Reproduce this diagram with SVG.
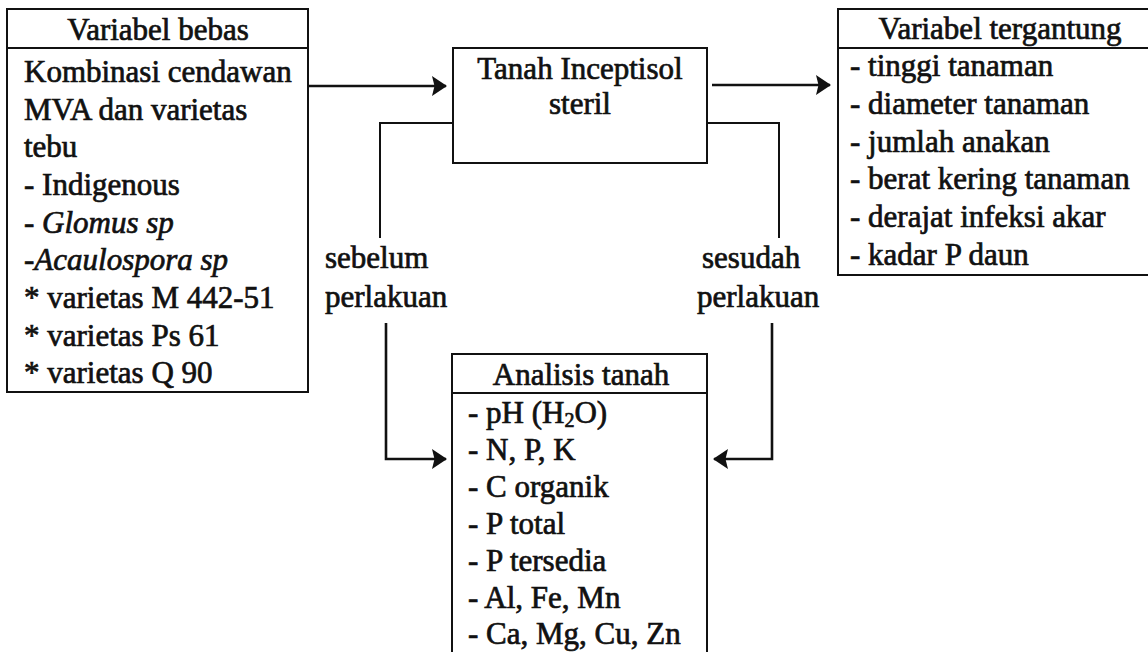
<svg xmlns="http://www.w3.org/2000/svg" width="1148" height="652" viewBox="0 0 1148 652">
<style>
  .box { fill: none; stroke: #111; stroke-width: 2; }
  .t { font-size: 31px; fill: #111; stroke: #111; stroke-width: 0.7; }
  .c { text-anchor: middle; }
  .i { font-style: italic; }
  .ln { fill: none; stroke: #111; stroke-width: 2; }
  .ar { fill: none; stroke: #111; stroke-width: 2.6; }
</style>
<defs>
  <marker id="ah" viewBox="0 0 15 20" refX="14" refY="10" markerWidth="15" markerHeight="20" markerUnits="userSpaceOnUse" orient="auto">
    <path d="M0,0 L15,10 L0,20 L2.5,10 Z" fill="#111"/>
  </marker>
</defs>
<rect x="0" y="0" width="1148" height="652" fill="#fff"/>

<g font-family="'Liberation Serif', serif">
<g id="variabel-bebas">
  <rect class="box" x="7" y="9" width="301" height="383"/>
  <line class="box" x1="7" y1="48" x2="308" y2="48"/>
  <text class="t c" x="158" y="40">Variabel bebas</text>
  <text class="t" x="24" y="82">Kombinasi cendawan</text>
  <text class="t" x="24" y="120">MVA dan varietas</text>
  <text class="t" x="24" y="157">tebu</text>
  <text class="t" x="24" y="195">- Indigenous</text>
  <text class="t" x="24" y="233">- <tspan class="i">Glomus sp</tspan></text>
  <text class="t" x="24" y="270">-<tspan class="i">Acaulospora sp</tspan></text>
  <text class="t" x="24" y="308">* varietas M 442-51</text>
  <text class="t" x="24" y="346">* varietas Ps 61</text>
  <text class="t" x="24" y="383">* varietas Q 90</text>
</g>

<g id="tanah-inceptisol">
  <rect class="box" x="453" y="48" width="254" height="115"/>
  <text class="t c" x="580" y="79">Tanah Inceptisol</text>
  <text class="t c" x="580" y="114">steril</text>
</g>

<g id="variabel-tergantung">
  <rect class="box" x="838" y="9" width="320" height="266"/>
  <line class="box" x1="838" y1="48" x2="1148" y2="48"/>
  <text class="t c" x="1000" y="39">Variabel tergantung</text>
  <text class="t" x="850" y="76">- tinggi tanaman</text>
  <text class="t" x="850" y="114">- diameter tanaman</text>
  <text class="t" x="850" y="152">- jumlah anakan</text>
  <text class="t" x="850" y="189">- berat kering tanaman</text>
  <text class="t" x="850" y="227">- derajat infeksi akar</text>
  <text class="t" x="850" y="265">- kadar P daun</text>
</g>

<g id="analisis-tanah">
  <rect class="box" x="452" y="354" width="255" height="310"/>
  <line class="box" x1="452" y1="393" x2="707" y2="393"/>
  <text class="t c" x="581" y="385">Analisis tanah</text>
  <text class="t" x="468" y="423">- pH (H<tspan font-size="20" dy="4">2</tspan><tspan dy="-4">O)</tspan></text>
  <text class="t" x="468" y="460">- N, P, K</text>
  <text class="t" x="468" y="497">- C organik</text>
  <text class="t" x="468" y="534">- P total</text>
  <text class="t" x="468" y="571">- P tersedia</text>
  <text class="t" x="468" y="608">- Al, Fe, Mn</text>
  <text class="t" x="468" y="644">- Ca, Mg, Cu, Zn</text>
</g>

<g id="label-sebelum">
  <text class="t" x="325" y="268">sebelum</text>
  <text class="t" x="325" y="307">perlakuan</text>
</g>
<g id="label-sesudah">
  <text class="t" x="702" y="268">sesudah</text>
  <text class="t" x="697" y="307">perlakuan</text>
</g>
</g>

<g id="connectors">
  <line class="ar" x1="308" y1="86" x2="446" y2="86" marker-end="url(#ah)"/>
  <line class="ar" x1="712" y1="85" x2="830" y2="85" marker-end="url(#ah)"/>
  <polyline class="ln" points="453,123 380,123 380,238"/>
  <polyline class="ar" points="386,323 386,459 446,459" marker-end="url(#ah)"/>
  <polyline class="ln" points="707,123 779,123 779,238"/>
  <polyline class="ar" points="772,323 772,459 714,459" marker-end="url(#ah)"/>
</g>
</svg>
